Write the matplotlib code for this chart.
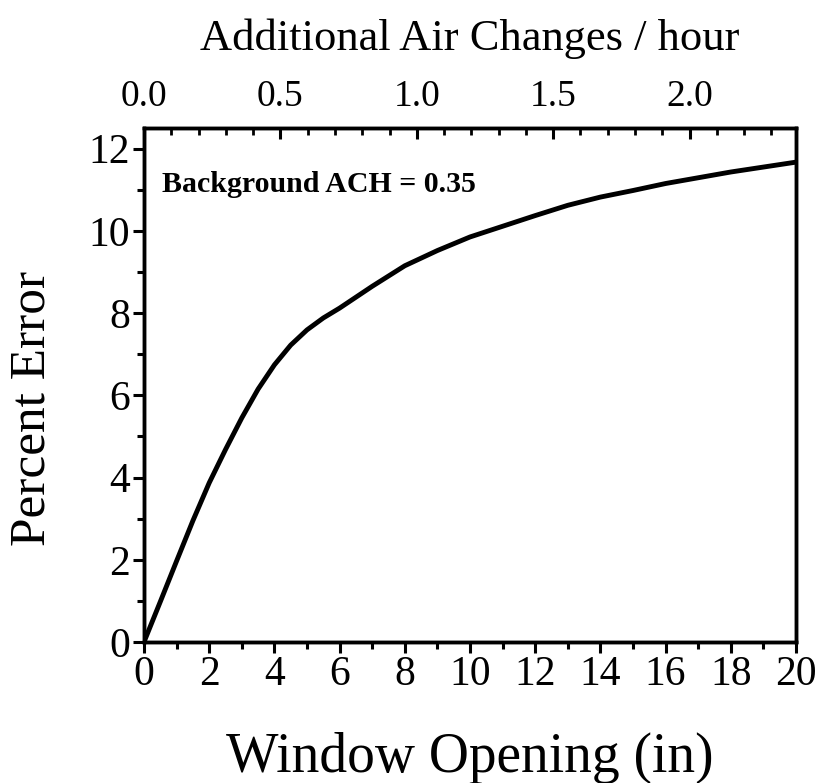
import matplotlib.pyplot as plt
import numpy as np

plt.rcParams['font.family'] = ['Liberation Serif', 'DejaVu Serif']

# Percent error vs window opening
opening_in = [0, 0.5, 1, 1.5, 2, 2.5, 3, 3.5, 4, 4.5, 5, 5.5, 6, 7, 8, 9, 10,
              11, 12, 13, 14, 15, 16, 17, 18, 19, 20]
percent_error = [0.0, 0.98, 1.97, 2.95, 3.87, 4.68, 5.45, 6.15, 6.74, 7.22, 7.59, 7.88, 8.12,
                 8.65, 9.15, 9.52, 9.85, 10.11, 10.37, 10.62, 10.82, 10.98, 11.15, 11.29,
                 11.43, 11.55, 11.67]

ach_ticks = [0.0, 0.5, 1.0, 1.5, 2.0]
ach_max = 2.39
background_ach = 0.35

fig = plt.figure(figsize=(8.18, 7.83), dpi=100)
ax = fig.add_axes([144 / 818, 1 - 642 / 783, 652 / 818, 514 / 783])

ax.plot(opening_in, percent_error, color='black', lw=3.5, solid_capstyle='butt', solid_joinstyle='round')
ax.set_xlim(0, 20)
ax.set_ylim(0, 12.5)
ax.set_xticks(np.arange(0, 21, 2))
ax.set_xticks(np.arange(1, 20, 2), minor=True)
ax.set_yticks(np.arange(0, 13, 2))
ax.set_yticks(np.arange(1, 13, 2), minor=True)
ax.tick_params(axis='both', which='major', direction='out', length=8, width=2.2, labelsize=30, pad=2)
ax.tick_params(axis='both', which='minor', direction='out', length=5, width=2.2)
for s in ax.spines.values():
    s.set_linewidth(2.5)

ax.set_xlabel('Window Opening (in)', fontsize=40, va='top')
ax.xaxis.set_label_coords(0.5, -0.175)
ax.set_ylabel('Percent Error', fontsize=37, va='center')
ax.yaxis.set_label_coords(-0.172, 0.455)

ax.text(0.55, 11.12, f'Background ACH = {background_ach}', fontsize=21.5, fontweight='bold',
        va='center', ha='left')

top = ax.twiny()
top.set_xlim(0, ach_max)
top.set_xticks(ach_ticks)
top.set_xticklabels([f'{v:.1f}' for v in ach_ticks])
top.set_xticks(np.arange(0.1, ach_max, 0.1), minor=True)
top.tick_params(axis='x', which='major', direction='in', length=8, width=2.2, labelsize=27, pad=10)
top.tick_params(axis='x', which='minor', direction='in', length=5, width=2)
top.set_xlabel('Additional Air Changes / hour', fontsize=32, va='bottom')
top.xaxis.set_label_coords(0.5, 1.135)
for s in top.spines.values():
    s.set_linewidth(2.5)

fig.savefig('out.png', dpi=100)
